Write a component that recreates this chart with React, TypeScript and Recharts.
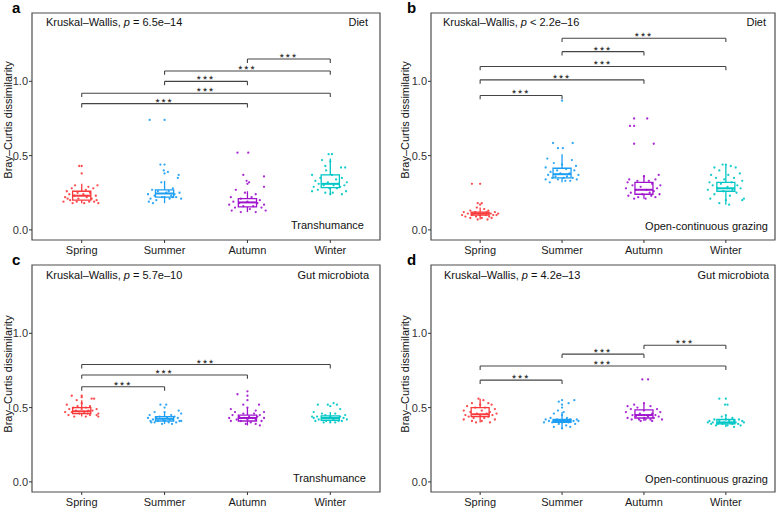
import React from 'react'
import {
  ComposedChart,
  Scatter,
  XAxis,
  YAxis,
  ReferenceArea,
  ReferenceLine,
  ReferenceDot,
} from 'recharts'

const SEASONS = ['Spring', 'Summer', 'Autumn', 'Winter']
const COLORS = ['#F83A3C', '#1C9EF4', '#A014CE', '#00C6C6']
const Y_TICKS = [0, 0.5, 1.0]
const Y_DOMAIN: [number, number] = [-0.068, 1.46]

// jittered samples: [x offset from the season, dissimilarity]
const A_SPRING = [[-0.03,0.43],[0.0,0.43],[0.0,0.38],[-0.08,0.30],[0.19,0.30],[0.08,0.29],[-0.12,0.28],[0.14,0.28],[-0.18,0.26],[0.05,0.27],[-0.05,0.25],[0.1,0.25],[-0.15,0.24],[0.02,0.24],[0.17,0.23],[-0.09,0.23],[-0.2,0.22],[0.06,0.22],[0.12,0.21],[-0.04,0.21],[-0.14,0.20],[0.18,0.20],[0.09,0.19],[-0.22,0.19],[-0.06,0.19],[0.2,0.18],[-0.11,0.18],[0.03,0.18],[0.15,0.19],[-0.17,0.21]]
const A_SUMMER = [[-0.18,0.74],[0.0,0.74],[-0.05,0.44],[0.0,0.44],[-0.01,0.40],[0.04,0.39],[0.0,0.38],[0.17,0.37],[0.16,0.35],[-0.04,0.32],[-0.15,0.27],[0.1,0.28],[0.05,0.26],[-0.08,0.26],[0.18,0.25],[-0.2,0.24],[0.02,0.25],[0.12,0.24],[-0.12,0.23],[0.08,0.23],[-0.03,0.22],[0.14,0.22],[-0.17,0.21],[0.2,0.21],[-0.1,0.2],[0.06,0.21],[-0.19,0.19],[-0.14,0.18],[0.0,0.22],[0.1,0.22]]
const A_AUTUMN = [[-0.12,0.52],[0.01,0.52],[-0.05,0.37],[0.2,0.36],[-0.01,0.33],[0.02,0.32],[0.0,0.31],[0.2,0.29],[-0.14,0.27],[-0.03,0.25],[0.1,0.24],[-0.2,0.22],[0.05,0.22],[-0.08,0.21],[0.15,0.2],[-0.17,0.19],[0.0,0.19],[0.12,0.18],[-0.1,0.18],[0.2,0.17],[-0.22,0.17],[0.07,0.16],[-0.05,0.16],[0.17,0.15],[-0.15,0.15],[0.03,0.14],[-0.19,0.13],[0.22,0.13],[-0.08,0.12],[0.1,0.12]]
const A_WINTER = [[-0.02,0.51],[0.02,0.51],[-0.1,0.47],[0.0,0.46],[-0.06,0.43],[0.18,0.42],[0.13,0.42],[-0.05,0.4],[-0.22,0.37],[0.02,0.37],[0.14,0.35],[-0.12,0.35],[0.07,0.34],[-0.18,0.33],[0.2,0.32],[-0.03,0.32],[0.1,0.31],[-0.14,0.31],[0.04,0.3],[-0.08,0.3],[0.17,0.3],[-0.2,0.29],[0.12,0.29],[-0.01,0.28],[0.08,0.28],[-0.15,0.27],[0.19,0.26],[-0.22,0.26],[0.03,0.25],[-0.06,0.25],[0.14,0.24],[0.0,0.24]]

const B_SPRING = [[-0.1,0.31],[0.0,0.31],[-0.03,0.18],[0.02,0.18],[0.0,0.17],[-0.04,0.15],[0.05,0.14],[-0.12,0.13],[0.1,0.13],[-0.2,0.12],[-0.06,0.12],[0.08,0.12],[0.18,0.12],[-0.15,0.11],[-0.02,0.11],[0.04,0.11],[0.13,0.11],[0.22,0.11],[-0.22,0.1],[-0.1,0.1],[0.0,0.1],[0.07,0.1],[0.16,0.1],[-0.18,0.09],[-0.05,0.09],[0.11,0.09],[-0.12,0.08],[0.02,0.08],[0.14,0.08],[-0.03,0.07],[0.09,0.07],[-0.08,0.11],[0.2,0.1]]
const B_SUMMER = [[0.0,0.87],[-0.11,0.585],[0.13,0.585],[-0.05,0.55],[0.01,0.55],[-0.18,0.48],[0.12,0.47],[-0.1,0.45],[0.0,0.44],[0.17,0.43],[-0.2,0.42],[0.05,0.41],[-0.06,0.4],[0.15,0.4],[-0.14,0.39],[0.09,0.38],[-0.02,0.38],[0.2,0.37],[-0.17,0.37],[0.06,0.36],[-0.08,0.36],[0.13,0.35],[-0.12,0.35],[0.02,0.35],[-0.2,0.34],[0.18,0.34],[-0.05,0.34],[0.1,0.33],[-0.15,0.32],[0.04,0.33]]
const B_AUTUMN = [[-0.12,0.75],[0.04,0.75],[-0.17,0.7],[-0.12,0.7],[-0.12,0.58],[0.12,0.58],[0.18,0.37],[0.0,0.36],[-0.18,0.34],[0.14,0.34],[-0.08,0.33],[0.06,0.33],[-0.2,0.32],[0.1,0.31],[-0.14,0.3],[0.2,0.3],[-0.04,0.29],[0.16,0.28],[-0.22,0.28],[0.03,0.27],[-0.1,0.27],[0.12,0.26],[-0.16,0.25],[0.07,0.25],[-0.02,0.24],[0.19,0.24],[-0.19,0.23],[0.09,0.23],[-0.07,0.22],[0.14,0.22],[-0.12,0.21],[0.02,0.21]]
const B_WINTER = [[0.0,0.44],[-0.04,0.44],[0.06,0.43],[-0.14,0.42],[0.12,0.42],[-0.08,0.4],[0.17,0.38],[-0.18,0.37],[0.03,0.37],[0.1,0.35],[-0.12,0.35],[-0.02,0.34],[0.2,0.33],[-0.2,0.32],[0.07,0.32],[-0.06,0.31],[0.14,0.3],[-0.16,0.3],[0.02,0.29],[-0.1,0.28],[0.18,0.28],[0.08,0.27],[-0.22,0.27],[-0.03,0.26],[0.13,0.25],[-0.14,0.24],[0.05,0.23],[0.22,0.21],[-0.19,0.21],[0.0,0.2],[0.2,0.2],[-0.08,0.18],[0.04,0.17]]

const C_SPRING = [[-0.12,0.58],[0.0,0.58],[0.0,0.57],[0.12,0.56],[0.15,0.56],[-0.06,0.55],[0.0,0.53],[-0.18,0.52],[-0.05,0.51],[0.1,0.51],[-0.1,0.5],[0.05,0.5],[0.18,0.49],[-0.15,0.49],[0.0,0.49],[0.08,0.48],[-0.07,0.48],[0.13,0.48],[-0.2,0.47],[0.03,0.47],[-0.12,0.47],[0.2,0.46],[0.07,0.46],[-0.03,0.46],[0.18,0.45],[-0.16,0.45],[0.1,0.45],[-0.09,0.44],[0.05,0.44],[0.2,0.44]]
const C_SUMMER = [[-0.05,0.52],[0.02,0.52],[0.0,0.5],[0.17,0.48],[-0.12,0.47],[0.0,0.47],[0.2,0.46],[-0.18,0.45],[0.08,0.45],[-0.06,0.44],[0.12,0.44],[-0.2,0.43],[0.03,0.43],[-0.1,0.43],[0.16,0.43],[-0.14,0.42],[0.06,0.42],[-0.02,0.42],[0.1,0.42],[0.2,0.41],[-0.17,0.41],[0.0,0.41],[-0.08,0.41],[0.14,0.4],[-0.12,0.4],[0.05,0.4],[-0.03,0.39],[0.09,0.39],[-0.16,0.4],[0.18,0.41]]
const C_AUTUMN = [[0.0,0.61],[-0.12,0.59],[0.0,0.58],[0.0,0.55],[0.14,0.52],[-0.05,0.52],[0.0,0.5],[-0.2,0.49],[0.1,0.48],[-0.15,0.47],[0.2,0.47],[-0.05,0.46],[0.08,0.46],[-0.18,0.45],[0.15,0.45],[-0.1,0.44],[0.02,0.44],[0.12,0.44],[-0.22,0.43],[-0.04,0.43],[0.06,0.43],[0.2,0.43],[-0.13,0.42],[0.0,0.42],[0.1,0.42],[-0.2,0.41],[0.17,0.41],[-0.08,0.41],[0.04,0.4],[-0.02,0.39],[0.1,0.39],[0.15,0.38]]
const C_WINTER = [[-0.15,0.52],[-0.03,0.52],[0.04,0.53],[0.08,0.52],[0.0,0.51],[0.12,0.49],[-0.2,0.47],[-0.1,0.46],[0.06,0.46],[0.18,0.45],[-0.06,0.45],[-0.16,0.44],[0.0,0.44],[0.12,0.44],[-0.22,0.44],[0.08,0.43],[-0.1,0.43],[0.16,0.43],[-0.02,0.43],[0.2,0.42],[-0.14,0.42],[0.04,0.42],[-0.18,0.41],[0.1,0.41],[-0.05,0.41],[0.14,0.41],[0.0,0.4],[-0.08,0.4],[0.06,0.4],[-0.2,0.43]]

const D_SPRING = [[-0.02,0.56],[0.04,0.55],[-0.1,0.53],[0.1,0.53],[0.0,0.52],[0.14,0.52],[-0.16,0.51],[0.06,0.5],[-0.06,0.5],[0.18,0.49],[-0.2,0.48],[0.02,0.48],[0.12,0.47],[-0.12,0.47],[0.2,0.46],[-0.04,0.46],[0.08,0.46],[-0.18,0.45],[0.15,0.45],[0.0,0.45],[-0.14,0.44],[0.1,0.44],[-0.08,0.43],[0.05,0.43],[-0.2,0.42],[0.18,0.42],[-0.1,0.41],[0.02,0.41],[0.12,0.4],[-0.05,0.4]]
const D_SUMMER = [[0.0,0.55],[0.15,0.55],[-0.04,0.54],[0.08,0.53],[0.0,0.52],[0.0,0.5],[-0.05,0.48],[0.02,0.47],[-0.1,0.46],[0.0,0.45],[-0.14,0.43],[0.06,0.43],[0.18,0.42],[-0.2,0.42],[0.1,0.42],[-0.06,0.42],[0.03,0.41],[-0.16,0.41],[0.14,0.41],[0.2,0.41],[-0.1,0.41],[0.0,0.4],[-0.22,0.4],[0.08,0.4],[-0.12,0.4],[0.16,0.39],[-0.04,0.39],[0.05,0.38],[-0.1,0.37],[0.0,0.36],[0.1,0.37]]
const D_AUTUMN = [[-0.02,0.69],[0.05,0.69],[0.0,0.53],[-0.12,0.52],[-0.2,0.51],[0.08,0.51],[-0.08,0.5],[0.16,0.49],[-0.16,0.49],[0.0,0.48],[0.2,0.47],[-0.22,0.47],[0.1,0.46],[-0.05,0.46],[0.14,0.45],[-0.14,0.45],[0.05,0.44],[-0.1,0.44],[0.18,0.44],[0.0,0.43],[-0.2,0.43],[0.12,0.43],[-0.06,0.42],[0.08,0.42],[0.22,0.42],[-0.15,0.42],[0.02,0.42],[0.1,0.41],[-0.04,0.41]]
const D_WINTER = [[-0.08,0.56],[0.0,0.56],[-0.01,0.52],[0.02,0.52],[0.0,0.45],[-0.05,0.44],[0.08,0.43],[-0.14,0.42],[0.16,0.42],[0.0,0.42],[-0.2,0.41],[0.1,0.41],[-0.08,0.41],[0.2,0.41],[0.04,0.41],[-0.16,0.4],[-0.02,0.4],[0.12,0.4],[0.22,0.4],[-0.22,0.4],[0.06,0.4],[-0.1,0.39],[0.15,0.39],[-0.04,0.39],[0.08,0.39],[-0.18,0.39],[0.02,0.38],[0.18,0.38],[-0.12,0.38],[0.1,0.37]]

// box stats per season: [lower whisker, q1, median, q3, upper whisker]
const A_BOXES = [[0.18,0.20,0.23,0.26,0.31],[0.18,0.22,0.245,0.27,0.33],[0.12,0.155,0.185,0.21,0.26],[0.24,0.285,0.31,0.37,0.48]]
const B_BOXES = [[0.07,0.10,0.11,0.12,0.15],[0.32,0.35,0.375,0.415,0.51],[0.21,0.24,0.27,0.32,0.37],[0.17,0.26,0.28,0.32,0.44]]
const C_BOXES = [[0.44,0.46,0.475,0.50,0.55],[0.39,0.41,0.425,0.44,0.47],[0.38,0.41,0.43,0.45,0.50],[0.40,0.415,0.43,0.445,0.47]]
const D_BOXES = [[0.40,0.44,0.455,0.50,0.56],[0.36,0.40,0.41,0.42,0.47],[0.41,0.43,0.45,0.485,0.53],[0.37,0.39,0.40,0.42,0.45]]

// significance brackets: [from season, to season, height]
const A_BRACKETS = [[1,3,0.85],[1,4,0.92],[2,3,1.0],[2,4,1.07],[3,4,1.15]]
const B_BRACKETS = [[1,2,0.905],[1,3,1.01],[1,4,1.1],[2,3,1.2],[2,4,1.29]]
const C_BRACKETS = [[1,2,0.64],[1,3,0.72],[1,4,0.79]]
const D_BRACKETS = [[1,2,0.685],[1,4,0.78],[2,3,0.86],[3,4,0.92]]

const FONT = '"Liberation Sans", Arial, Helvetica, sans-serif'
const BRACKET_TICK = 0.026
const HALF_BOX = 0.11

interface PanelProps {
  left: number
  top: number
  yWidth: number
  right: number
  groups: number[][][]
  boxes: number[][]
  brackets: number[][]
}

function Panel({ left, top, yWidth, right, groups, boxes, brackets }: PanelProps) {
  return (
    <div style={{ position: 'absolute', left, top }}>
      <ComposedChart width={390} height={257} margin={{ top: 13, right, bottom: 0, left: 0 }}>
        <XAxis
          type="number"
          dataKey="x"
          domain={[0.4, 4.6]}
          ticks={[1, 2, 3, 4]}
          interval={0}
          allowDataOverflow
          tickFormatter={(v) => SEASONS[v - 1]}
          axisLine={false}
          tickSize={3}
          tickMargin={3}
          height={17}
          tickLine={{ stroke: '#333' }}
          tick={{ fill: '#1a1a1a', fontSize: 11, fontFamily: FONT }}
        />
        <YAxis
          type="number"
          dataKey="y"
          domain={Y_DOMAIN}
          ticks={Y_TICKS}
          interval={0}
          allowDataOverflow
          tickFormatter={(v) => v.toFixed(1)}
          axisLine={false}
          width={yWidth}
          tickSize={3}
          tickMargin={1}
          tickLine={{ stroke: '#333' }}
          tick={{ fill: '#333', fontSize: 11, fontFamily: FONT }}
        />
        <ReferenceArea
          x1={0.4}
          x2={4.6}
          y1={Y_DOMAIN[0]}
          y2={Y_DOMAIN[1]}
          ifOverflow="visible"
          fill="none"
          stroke="#4d4d4d"
          strokeWidth={1.2}
        />
        {boxes.map(([lo, q1, med, q3, hi], i) => {
          const c = i + 1
          const col = COLORS[i]
          return (
            <React.Fragment key={'box' + i}>
              <ReferenceLine segment={[{ x: c, y: q3 }, { x: c, y: hi }]} stroke={col} strokeWidth={1.3} />
              <ReferenceLine segment={[{ x: c, y: lo }, { x: c, y: q1 }]} stroke={col} strokeWidth={1.3} />
              <ReferenceArea
                x1={c - HALF_BOX}
                x2={c + HALF_BOX}
                y1={q1}
                y2={q3}
                fill="none"
                stroke={col}
                strokeWidth={1.3}
              />
              <ReferenceLine
                segment={[{ x: c - HALF_BOX, y: med }, { x: c + HALF_BOX, y: med }]}
                stroke={col}
                strokeWidth={2}
              />
            </React.Fragment>
          )
        })}
        {groups.map((pts, i) => (
          <Scatter
            key={'pts' + i}
            data={pts.map(([dx, y]) => ({ x: i + 1 + dx, y }))}
            fill={COLORS[i]}
            isAnimationActive={false}
            shape={(p: any) => <circle cx={p.cx} cy={p.cy} r={1.15} fill={COLORS[i]} fillOpacity={0.9} />}
          />
        ))}
        {brackets.map(([a, b, y], i) => (
          <React.Fragment key={'br' + i}>
            <ReferenceLine segment={[{ x: a, y }, { x: b, y }]} stroke="#444" strokeWidth={1.1} />
            <ReferenceLine segment={[{ x: a, y }, { x: a, y: y - BRACKET_TICK }]} stroke="#444" strokeWidth={1.1} />
            <ReferenceLine segment={[{ x: b, y }, { x: b, y: y - BRACKET_TICK }]} stroke="#444" strokeWidth={1.1} />
            <ReferenceDot
              x={(a + b) / 2}
              y={y}
              r={0}
              shape={(p: any) => (
                <text
                  x={p.cx}
                  y={p.cy + 2}
                  textAnchor="middle"
                  fontSize={10.5}
                  letterSpacing={2}
                  fontFamily={FONT}
                  textRendering="geometricPrecision"
                  style={{ WebkitFontSmoothing: 'antialiased' } as React.CSSProperties}
                  fill="#111"
                >
                  ***
                </text>
              )}
            />
          </React.Fragment>
        ))}
      </ComposedChart>
    </div>
  )
}

const txt: React.CSSProperties = {
  position: 'absolute',
  fontSize: 11,
  lineHeight: '13px',
  color: '#111',
  whiteSpace: 'nowrap',
}

function Label({ x, y, right, children }: { x: number; y: number; right?: boolean; children: React.ReactNode }) {
  const style: React.CSSProperties = right
    ? { ...txt, left: x, top: y - 7, transform: 'translateX(-100%)' }
    : { ...txt, left: x, top: y - 7 }
  return <div style={style}>{children}</div>
}

function YTitle({ x, y }: { x: number; y: number }) {
  return (
    <div
      style={{
        ...txt,
        left: x,
        top: y,
        color: '#111',
        transform: 'translate(-50%, -50%) rotate(-90deg)',
      }}
    >
      Bray–Curtis dissimilarity
    </div>
  )
}

function Letter({ x, y, children }: { x: number; y: number; children: string }) {
  return (
    <div style={{ position: 'absolute', left: x, top: y, fontSize: 15, fontWeight: 'bold', lineHeight: '16px' }}>
      {children}
    </div>
  )
}

export default function App() {
  return (
    <div
      style={{
        position: 'absolute',
        left: 0,
        top: 0,
        width: 778,
        height: 509,
        background: '#fff',
        fontFamily: FONT,
        overflow: 'hidden',
      }}
    >
      <Panel left={0} top={0} yWidth={32} right={10} groups={[A_SPRING, A_SUMMER, A_AUTUMN, A_WINTER]} boxes={A_BOXES} brackets={A_BRACKETS} />
      <Panel left={388} top={0} yWidth={43} right={3} groups={[B_SPRING, B_SUMMER, B_AUTUMN, B_WINTER]} boxes={B_BOXES} brackets={B_BRACKETS} />
      <Panel left={0} top={252} yWidth={32} right={10} groups={[C_SPRING, C_SUMMER, C_AUTUMN, C_WINTER]} boxes={C_BOXES} brackets={C_BRACKETS} />
      <Panel left={388} top={252} yWidth={43} right={3} groups={[D_SPRING, D_SUMMER, D_AUTUMN, D_WINTER]} boxes={D_BOXES} brackets={D_BRACKETS} />

      <Letter x={12} y={0}>a</Letter>
      <Letter x={407} y={0}>b</Letter>
      <Letter x={12} y={252}>c</Letter>
      <Letter x={407} y={252}>d</Letter>

      <YTitle x={8} y={120} />
      <YTitle x={405} y={120} />
      <YTitle x={8} y={374} />
      <YTitle x={405} y={374} />

      <Label x={46} y={23}>Kruskal–Wallis, <i>p</i> = 6.5e–14</Label>
      <Label x={368} y={23} right>Diet</Label>
      <Label x={364} y={226} right>Transhumance</Label>

      <Label x={443} y={23}>Kruskal–Wallis, <i>p</i> &lt; 2.2e–16</Label>
      <Label x={766} y={23} right>Diet</Label>
      <Label x={768} y={227} right>Open-continuous grazing</Label>

      <Label x={46} y={276}>Kruskal–Wallis, <i>p</i> = 5.7e–10</Label>
      <Label x={369} y={276} right>Gut microbiota</Label>
      <Label x={366} y={479} right>Transhumance</Label>

      <Label x={444} y={276}>Kruskal–Wallis, <i>p</i> = 4.2e–13</Label>
      <Label x={769} y={276} right>Gut microbiota</Label>
      <Label x={768} y={480} right>Open-continuous grazing</Label>
    </div>
  )
}
